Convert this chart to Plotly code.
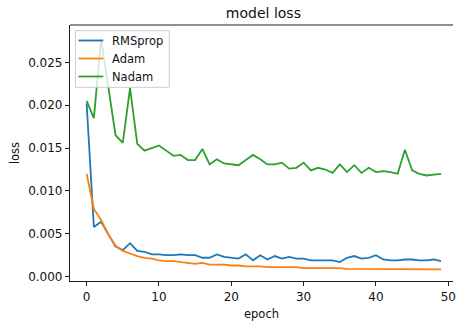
import plotly.graph_objects as go

epochs = list(range(50))

rmsprop = [0.0202, 0.0058, 0.0064, 0.0050, 0.0035, 0.0031, 0.0039, 0.0030, 0.0029, 0.0026,
           0.0026, 0.0025, 0.0025, 0.0026, 0.0025, 0.0025, 0.0022, 0.0022, 0.0026, 0.0023,
           0.0022, 0.0021, 0.0026, 0.0019, 0.0025, 0.0020, 0.0024, 0.0021, 0.0023, 0.0021,
           0.0021, 0.0019, 0.0019, 0.0019, 0.0019, 0.0017, 0.0022, 0.0024, 0.0021, 0.0022,
           0.0025, 0.0020, 0.0019, 0.0019, 0.0020, 0.0020, 0.0019, 0.0019, 0.0020, 0.0018]

adam = [0.0120, 0.0079, 0.0066, 0.0049, 0.0036, 0.0030, 0.0027, 0.0024, 0.0022, 0.0021,
        0.0019, 0.0018, 0.0018, 0.0017, 0.0016, 0.0015, 0.0016, 0.0014, 0.0014, 0.0014,
        0.0013, 0.0013, 0.0012, 0.0012, 0.0012, 0.0011, 0.0011, 0.0011, 0.0011, 0.0011,
        0.0010, 0.0010, 0.0010, 0.0010, 0.0010, 0.0010, 0.0009, 0.0009, 0.0009, 0.0009,
        0.0009, 0.0009, 0.0009, 0.0009, 0.0009, 0.0009, 0.0009, 0.0009, 0.0009, 0.00085]

nadam = [0.0205, 0.0185, 0.0277, 0.0221, 0.0165, 0.0156, 0.0220, 0.0155, 0.0147, 0.0150,
         0.0153, 0.0147, 0.0141, 0.0142, 0.0136, 0.0136, 0.0149, 0.0131, 0.0137, 0.0132,
         0.0131, 0.0130, 0.0136, 0.0142, 0.0137, 0.0131, 0.0131, 0.0133, 0.0126, 0.0127,
         0.0133, 0.0124, 0.0127, 0.0125, 0.0121, 0.0131, 0.0122, 0.0130, 0.0121, 0.0127,
         0.0122, 0.0123, 0.0122, 0.0120, 0.0148, 0.0124, 0.0120, 0.0118, 0.0119, 0.0120]

series = [("RMSprop", rmsprop, "#1f77b4"),
          ("Adam", adam, "#ff7f0e"),
          ("Nadam", nadam, "#2ca02c")]

x_ticks = [0, 10, 20, 30, 40, 50]
y_ticks = [0.000, 0.005, 0.010, 0.015, 0.020, 0.025]

FONT = "DejaVu Sans"
W, H = 456, 321
ML, MR, MT, MB = 70, 0, 25, 40
PW, PH = W - ML - MR, H - MT - MB


def px_to_paper(px, py):
    return (px - ML) / PW, (H - MB - py) / PH


fig = go.Figure()
for name, vals, color in series:
    fig.add_trace(go.Scatter(x=epochs, y=vals, mode="lines", name=name,
                             line=dict(color=color, width=1.8), showlegend=False))

shapes = []
annotations = []

# top spine
shapes.append(dict(type="line", xref="paper", yref="paper", x0=0, x1=1, y0=1, y1=1,
                   line=dict(color="#222", width=1.2), layer="above"))

# custom legend (matplotlib-style box)
bx0, by0 = px_to_paper(75.5, 87.3)
bx1, by1 = px_to_paper(170, 30.7)
shapes.append(dict(type="rect", xref="paper", yref="paper", x0=bx0, x1=bx1, y0=by0, y1=by1,
                   fillcolor="rgba(255,255,255,0.8)", line=dict(color="#cccccc", width=1),
                   layer="above"))
row_y = [40.5, 58.5, 76.5]
for (name, vals, color), ry in zip(series, row_y):
    lx0, ly = px_to_paper(78.5, ry)
    lx1, _ = px_to_paper(103.5, ry)
    shapes.append(dict(type="line", xref="paper", yref="paper", x0=lx0, x1=lx1, y0=ly, y1=ly,
                       line=dict(color=color, width=1.8), layer="above"))
    tx, _ = px_to_paper(110.5, ry)
    annotations.append(dict(text=name, xref="paper", yref="paper", x=tx, y=ly,
                            xanchor="left", yanchor="middle", showarrow=False,
                            font=dict(size=11.5, family=FONT, color="#111")))

fig.update_layout(
    width=W, height=H,
    margin=dict(l=ML, r=MR, t=MT, b=MB),
    paper_bgcolor="white", plot_bgcolor="white",
    font=dict(family=FONT, color="#111", size=12),
    title=dict(text="model loss", x=0.505, xref="paper", xanchor="center",
               y=1 - 13.5 / H, yref="container", yanchor="middle",
               font=dict(size=14, family=FONT, color="#111")),
    showlegend=False,
    shapes=shapes,
    annotations=annotations,
)

fig.update_xaxes(range=[-2.3, 50.65], tickvals=x_ticks, ticktext=[str(t) for t in x_ticks],
                 showgrid=False, zeroline=False, showline=True, mirror=False,
                 linecolor="#222", linewidth=1.2, ticks="outside", ticklen=4,
                 tickcolor="#222", tickfont=dict(size=12), ticklabeloverflow="allow",
                 title=dict(text="epoch", font=dict(size=11.5), standoff=8))
fig.update_yaxes(range=[-0.00051, 0.02936], tickvals=y_ticks,
                 ticktext=[f"{t:.3f}" for t in y_ticks],
                 showgrid=False, zeroline=False, showline=True, mirror=False,
                 linecolor="#222", linewidth=1.2, ticks="outside", ticklen=4,
                 tickcolor="#222", tickfont=dict(size=12),
                 title=dict(text="loss", font=dict(size=11.5), standoff=6))

fig.write_html("out.html")
